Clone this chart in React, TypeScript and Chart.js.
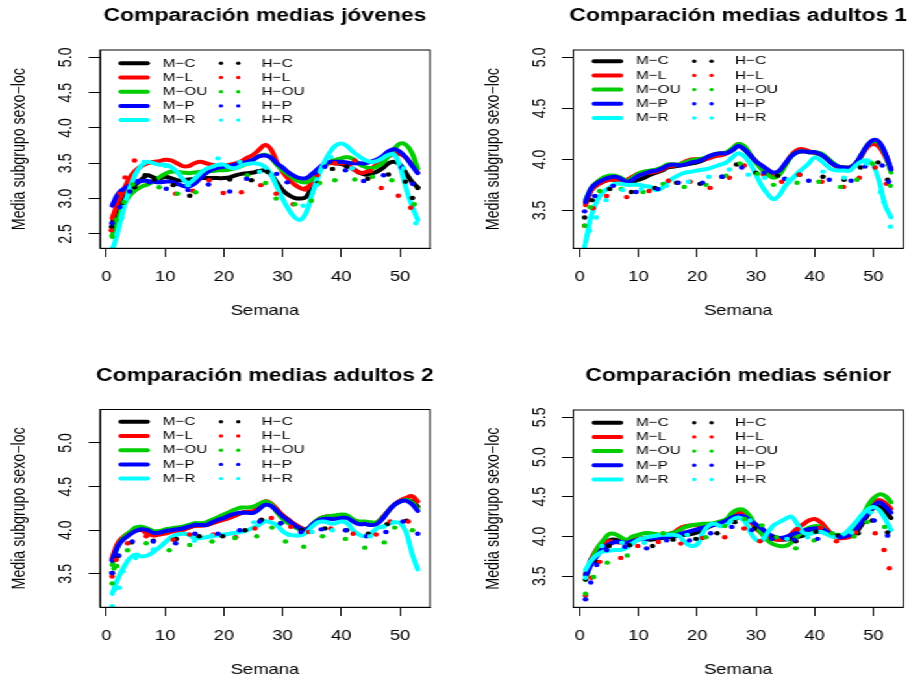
import React, { useEffect, useRef } from "react";
import { Chart, registerables } from "chart.js";

Chart.register(...registerables);

// The reference is horizontally stretched: drawn on a 700px wide page, shown 909px wide.
const STRETCH = 909 / 700;
const FONT = '"Liberation Sans", Arial, Helvetica, sans-serif';
const PANEL_W = 350;
const PANEL_H = 340;

const seriesColors = ["#000000", "#FF0000", "#00CD00", "#0000FF", "#00FFFF"];
const mLabels = ["M\u2212C", "M\u2212L", "M\u2212OU", "M\u2212P", "M\u2212R"];
const hLabels = ["H\u2212C", "H\u2212L", "H\u2212OU", "H\u2212P", "H\u2212R"];

const weeks = [1, 2, 3, 4, 5, 6, 7, 8, 9, 10, 11, 12, 13, 14, 15, 16, 17, 18, 19, 20, 21, 22, 23, 24, 25, 26, 27, 28, 29, 30, 31, 32, 33, 34, 35, 36, 37, 38, 39, 40, 41, 42, 43, 44, 45, 46, 47, 48, 49, 50, 51, 52, 53];
const xTicks = [0, 10, 20, 30, 40, 50];

// ---------- Jóvenes ----------
const mcJov = [2.65, 2.9, 3.05, 3.14, 3.2, 3.27, 3.33, 3.3, 3.28, 3.31, 3.29, 3.26, 3.26, 3.27, 3.28, 3.29, 3.29, 3.29, 3.29, 3.29, 3.3, 3.33, 3.35, 3.36, 3.37, 3.39, 3.4, 3.34, 3.23, 3.12, 3.05, 3.01, 3.0, 3.02, 3.18, 3.38, 3.48, 3.51, 3.5, 3.49, 3.46, 3.42, 3.37, 3.34, 3.35, 3.38, 3.43, 3.5, 3.52, 3.48, 3.36, 3.24, 3.16];
const mlJov = [2.72, 2.95, 3.13, 3.3, 3.4, 3.46, 3.5, 3.52, 3.53, 3.55, 3.54, 3.5, 3.46, 3.46, 3.5, 3.52, 3.5, 3.48, 3.47, 3.47, 3.48, 3.5, 3.53, 3.58, 3.62, 3.69, 3.76, 3.7, 3.52, 3.38, 3.28, 3.2, 3.15, 3.13, 3.25, 3.4, 3.47, 3.5, 3.5, 3.5, 3.48, 3.42, 3.37, 3.37, 3.42, 3.48, 3.55, 3.6, 3.63, 3.63, 3.58, 3.48, 3.37];
const moJov = [2.48, 2.7, 2.92, 3.05, 3.12, 3.17, 3.2, 3.24, 3.3, 3.35, 3.38, 3.38, 3.37, 3.36, 3.37, 3.38, 3.39, 3.39, 3.4, 3.4, 3.41, 3.43, 3.46, 3.5, 3.55, 3.6, 3.62, 3.58, 3.48, 3.4, 3.34, 3.28, 3.24, 3.23, 3.27, 3.37, 3.46, 3.52, 3.55, 3.57, 3.59, 3.56, 3.49, 3.45, 3.43, 3.45, 3.5, 3.6, 3.7, 3.78, 3.76, 3.65, 3.42];
const mpJov = [2.9, 3.07, 3.14, 3.19, 3.22, 3.25, 3.25, 3.24, 3.23, 3.24, 3.24, 3.21, 3.18, 3.17, 3.21, 3.29, 3.36, 3.41, 3.44, 3.45, 3.46, 3.48, 3.5, 3.52, 3.55, 3.6, 3.61, 3.58, 3.5, 3.44, 3.37, 3.32, 3.29, 3.29, 3.35, 3.42, 3.49, 3.52, 3.52, 3.52, 3.51, 3.5, 3.5, 3.5, 3.52, 3.55, 3.6, 3.67, 3.7, 3.66, 3.58, 3.47, 3.36];
const mrJov = [2.25, 2.55, 2.88, 3.15, 3.35, 3.47, 3.52, 3.5, 3.48, 3.48, 3.45, 3.38, 3.28, 3.22, 3.28, 3.36, 3.42, 3.45, 3.48, 3.48, 3.44, 3.43, 3.47, 3.49, 3.5, 3.49, 3.45, 3.35, 3.17, 3.0, 2.85, 2.74, 2.7, 2.8, 3.05, 3.3, 3.5, 3.65, 3.75, 3.78, 3.74, 3.66, 3.6, 3.55, 3.52, 3.53, 3.57, 3.62, 3.62, 3.45, 3.15, 2.9, 2.7];
const hcJov = [[0.9, 2.6], [2.8, 2.94], [4.8, 3.16], [6.6, 3.33], [8.2, 3.27], [11.4, 3.19], [14.2, 3.04], [21, 3.27], [24.7, 3.26], [27.4, 3.38], [36, 3.22], [38.5, 3.42], [40.9, 3.45], [44.5, 3.28], [48, 3.34], [50.9, 3.24], [52.1, 3.01], [53, 3.15]];
const hlJov = [[0.85, 2.55], [2.3, 3.07], [3.2, 3.3], [4.8, 3.54], [11.8, 3.07], [14.7, 3.11], [17.5, 3.26], [19.9, 3.08], [23, 3.09], [26.3, 3.19], [28.9, 3.07], [31.8, 2.92], [34, 3.15], [35.9, 3.33], [38.9, 3.5], [42.3, 3.54], [44.9, 3.39], [46.8, 3.15], [49.7, 3.04], [51.8, 2.87]];
const hoJov = [[1, 2.46], [1.7, 2.7], [3, 2.95], [4.5, 3.2], [9, 3.16], [12.1, 3.07], [15.2, 3.09], [24, 3.33], [27.1, 3.22], [28.9, 3.0], [32.1, 2.92], [34.9, 2.97], [36.3, 3.22], [38.9, 3.26], [42.3, 3.27], [45.3, 3.31], [48.6, 3.26], [52.4, 2.92]];
const hpJov = [[1, 2.65], [2.3, 2.88], [4, 3.1], [5.4, 3.25], [7.3, 3.23], [10.2, 3.14], [13.9, 3.12], [17.4, 3.2], [21, 3.1], [23.9, 3.28], [29, 3.35], [30.8, 3.23], [35.5, 3.36], [37.2, 3.45], [40.7, 3.4], [43.8, 3.25], [47.2, 3.33], [50.3, 3.44], [52.1, 3.21]];
const hrJov = [[1.1, 2.3], [2.6, 2.73], [6.4, 3.52], [10.1, 3.46], [13.9, 3.19], [19, 3.57], [22.7, 3.52], [26.1, 3.38], [33.5, 2.9], [35.8, 3.19], [38.2, 3.59], [41.8, 3.43], [50.6, 3.43], [52.7, 2.65]];
const yTicksJov = [2.5, 3.0, 3.5, 4.0, 4.5, 5.0];

// ---------- Adultos 1 ----------
const mcA1 = [3.57, 3.7, 3.75, 3.78, 3.8, 3.8, 3.79, 3.78, 3.78, 3.8, 3.82, 3.85, 3.87, 3.89, 3.92, 3.93, 3.94, 3.95, 3.96, 3.97, 3.99, 4.02, 4.04, 4.05, 4.06, 4.09, 4.13, 4.1, 4.04, 3.98, 3.93, 3.89, 3.86, 3.88, 3.95, 4.03, 4.07, 4.08, 4.07, 4.07, 4.05, 4.01, 3.96, 3.93, 3.92, 3.92, 3.96, 4.04, 4.13, 4.17, 4.15, 4.05, 3.9];
const mlA1 = [3.55, 3.7, 3.75, 3.78, 3.8, 3.8, 3.79, 3.8, 3.83, 3.86, 3.87, 3.87, 3.88, 3.9, 3.93, 3.94, 3.95, 3.98, 4.0, 4.0, 4.0, 4.01, 4.03, 4.04, 4.06, 4.1, 4.15, 4.12, 4.05, 3.98, 3.93, 3.88, 3.86, 3.88, 3.95, 4.04, 4.09, 4.1, 4.08, 4.06, 4.05, 4.02, 3.96, 3.92, 3.92, 3.92, 3.96, 4.04, 4.12, 4.15, 4.12, 4.03, 3.9];
const moA1 = [3.6, 3.72, 3.78, 3.82, 3.84, 3.84, 3.82, 3.79, 3.82, 3.86, 3.88, 3.89, 3.9, 3.92, 3.95, 3.95, 3.95, 3.97, 3.99, 4.0, 4.01, 4.03, 4.05, 4.06, 4.07, 4.11, 4.15, 4.13, 4.05, 3.97, 3.9, 3.85, 3.82, 3.85, 3.94, 4.03, 4.07, 4.08, 4.07, 4.07, 4.06, 4.02, 3.97, 3.93, 3.92, 3.92, 3.96, 4.05, 4.14, 4.18, 4.16, 4.05, 3.87];
const mpA1 = [3.58, 3.72, 3.77, 3.8, 3.82, 3.83, 3.81, 3.78, 3.8, 3.84, 3.86, 3.88, 3.89, 3.91, 3.94, 3.95, 3.94, 3.95, 3.97, 3.98, 4.0, 4.03, 4.05, 4.06, 4.06, 4.09, 4.13, 4.1, 4.04, 3.98, 3.94, 3.9, 3.87, 3.89, 3.96, 4.03, 4.07, 4.08, 4.07, 4.07, 4.05, 4.01, 3.96, 3.93, 3.92, 3.92, 3.96, 4.05, 4.14, 4.19, 4.17, 4.06, 3.9];
const mrA1 = [3.18, 3.45, 3.6, 3.68, 3.72, 3.76, 3.76, 3.75, 3.75, 3.75, 3.74, 3.73, 3.7, 3.72, 3.78, 3.82, 3.85, 3.87, 3.88, 3.89, 3.9, 3.91, 3.93, 3.95, 3.97, 4.02, 4.06, 4.03, 3.96, 3.85, 3.74, 3.66, 3.61, 3.65, 3.74, 3.8, 3.86, 3.91, 3.96, 4.02, 3.99, 3.94, 3.9, 3.89, 3.89, 3.89, 3.94, 3.98, 3.99, 3.94, 3.78, 3.55, 3.43];
const hcA1 = [[0.85, 3.43], [2.1, 3.6], [5.1, 3.71], [8.8, 3.68], [12.8, 3.72], [16.5, 3.77], [20.5, 3.76], [24.3, 3.83], [26.7, 3.95], [30, 3.87], [33.7, 3.84], [37.4, 3.85], [41.4, 3.83], [45, 3.8], [47.8, 3.92], [50.8, 3.97], [52.4, 3.8]];
const hlA1 = [[0.85, 3.35], [2.3, 3.52], [4.6, 3.64], [8, 3.63], [11.8, 3.69], [15.1, 3.79], [18.8, 3.78], [22.2, 3.72], [25.5, 3.82], [28, 3.94], [31.3, 3.85], [34.4, 3.78], [37.4, 3.85], [41.2, 3.78], [44.9, 3.73], [47.6, 3.82], [50.3, 3.92], [52.2, 3.76]];
const hoA1 = [[0.85, 3.35], [1.8, 3.53], [3.4, 3.69], [7.1, 3.71], [10.8, 3.68], [14.2, 3.76], [17.8, 3.73], [21.5, 3.75], [24.9, 3.84], [27.3, 3.96], [30.3, 3.86], [33, 3.75], [37, 3.77], [40.7, 3.78], [44.4, 3.73], [47.2, 3.8], [49.8, 3.96], [52.9, 3.74]];
const hpA1 = [[0.85, 3.49], [2.6, 3.64], [5.7, 3.74], [9.6, 3.68], [13.3, 3.71], [16.8, 3.77], [20.9, 3.77], [24.2, 3.83], [27.6, 3.92], [31.4, 3.87], [34.9, 3.81], [39, 3.79], [42.5, 3.8], [46.2, 3.79], [48.6, 3.93], [51.5, 3.94], [52.6, 3.78]];
const hrA1 = [[0.85, 3.15], [1.7, 3.3], [2.8, 3.43], [4.5, 3.6], [7.3, 3.7], [10.5, 3.71], [14.8, 3.74], [18.5, 3.78], [22, 3.83], [25.5, 3.9], [28.7, 3.85], [31.5, 3.82], [35.5, 3.8], [41.4, 3.88], [45, 3.82], [48.8, 3.96], [51.2, 3.68], [51.8, 3.58], [52.9, 3.34]];
const yTicksA1 = [3.5, 4.0, 4.5, 5.0];

// ---------- Adultos 2 ----------
const mcA2 = [3.66, 3.84, 3.92, 3.96, 4.0, 4.01, 3.99, 3.96, 3.96, 3.98, 3.99, 4.0, 4.01, 4.03, 4.05, 4.06, 4.06, 4.08, 4.11, 4.13, 4.15, 4.17, 4.2, 4.21, 4.21, 4.26, 4.32, 4.3, 4.24, 4.17, 4.12, 4.07, 4.03, 4.01, 4.06, 4.12, 4.15, 4.15, 4.15, 4.16, 4.15, 4.11, 4.08, 4.08, 4.07, 4.08, 4.14, 4.22, 4.29, 4.33, 4.35, 4.33, 4.27];
const mlA2 = [3.68, 3.86, 3.93, 3.97, 4.0, 4.0, 3.96, 3.94, 3.95, 3.96, 3.98, 3.99, 4.0, 4.03, 4.05, 4.05, 4.06, 4.08, 4.1, 4.12, 4.14, 4.17, 4.2, 4.21, 4.22, 4.27, 4.33, 4.31, 4.24, 4.17, 4.12, 4.07, 4.03, 4.0, 4.06, 4.12, 4.15, 4.16, 4.16, 4.17, 4.16, 4.12, 4.08, 4.08, 4.07, 4.08, 4.15, 4.22, 4.29, 4.34, 4.37, 4.39, 4.33];
const moA2 = [3.6, 3.82, 3.92, 3.98, 4.03, 4.04, 4.02, 3.99, 3.99, 4.01, 4.02, 4.03, 4.04, 4.06, 4.08, 4.08, 4.09, 4.12, 4.15, 4.18, 4.21, 4.24, 4.26, 4.26, 4.27, 4.3, 4.33, 4.3, 4.21, 4.13, 4.08, 4.04, 4.01, 4.0, 4.06, 4.12, 4.15, 4.16, 4.17, 4.18, 4.17, 4.12, 4.1, 4.1, 4.09, 4.09, 4.14, 4.22, 4.29, 4.33, 4.35, 4.32, 4.24];
const mpA2 = [3.65, 3.82, 3.9, 3.95, 3.99, 4.01, 4.0, 3.97, 3.97, 3.99, 4.0, 4.01, 4.02, 4.04, 4.06, 4.06, 4.06, 4.09, 4.12, 4.14, 4.17, 4.19, 4.2, 4.2, 4.2, 4.24, 4.29, 4.28, 4.22, 4.16, 4.11, 4.06, 4.02, 4.0, 4.06, 4.11, 4.13, 4.13, 4.13, 4.14, 4.14, 4.1, 4.07, 4.07, 4.06, 4.07, 4.13, 4.22, 4.29, 4.33, 4.34, 4.3, 4.22];
const mrA2 = [3.27, 3.45, 3.58, 3.68, 3.72, 3.7, 3.71, 3.75, 3.8, 3.86, 3.92, 3.95, 3.96, 3.95, 3.91, 3.91, 3.92, 3.93, 3.94, 3.95, 3.96, 3.97, 3.98, 4.0, 4.03, 4.06, 4.1, 4.09, 4.06, 3.99, 3.95, 3.94, 3.94, 3.97, 4.04, 4.09, 4.1, 4.08, 4.08, 4.1, 4.08, 4.0, 3.95, 3.93, 3.96, 4.02, 4.04, 4.07, 4.09, 4.08, 3.98, 3.74, 3.55];
const hcA2 = [[1, 3.51], [2, 3.7], [4.3, 3.86], [8, 3.88], [11.9, 3.9], [15.8, 3.93], [19.8, 3.93], [23.6, 4.0], [26.4, 4.12], [29.7, 4.08], [33.2, 4.0], [37.2, 4.02], [40.9, 4.0], [44.6, 3.96], [47.8, 4.07], [51.1, 4.11]];
const hlA2 = [[1, 3.47], [1.7, 3.66], [3.6, 3.85], [6.8, 3.93], [11.4, 3.89], [14.2, 3.95], [18.2, 3.95], [22, 3.92], [25.3, 4.02], [28.1, 4.14], [31.4, 4.04], [34.5, 3.98], [38.2, 4.02], [42, 3.96], [45.9, 3.95], [48.3, 4.1], [51.4, 4.1]];
const hoA2 = [[1, 3.39], [1.3, 3.56], [1.8, 3.59], [3.6, 3.77], [6.8, 3.85], [10.7, 3.77], [14.2, 3.83], [18, 3.87], [21.9, 3.91], [25.6, 3.93], [28.2, 4.03], [30.5, 3.87], [33.6, 3.81], [36.8, 3.93], [40.7, 3.9], [44, 3.8], [47.3, 3.86], [49.1, 4.03], [52.1, 4.0]];
const hpA2 = [[1, 3.51], [2.1, 3.71], [4.4, 3.87], [8, 3.87], [11.8, 3.85], [15.1, 3.96], [19, 3.96], [22.7, 4.0], [26.1, 4.1], [29.7, 4.08], [33.1, 3.98], [36.6, 4.01], [40.7, 4.0], [44.3, 3.93], [47.6, 3.98], [50.5, 4.1], [53, 3.96]];
const hrA2 = [[1, 3.13], [1.4, 3.32], [2.2, 3.34], [2.8, 3.53], [5, 3.68], [8, 3.78], [15, 3.88], [18, 3.94], [25.1, 4.09], [31, 3.95], [35, 3.98], [38.5, 4.0], [44.9, 3.93], [47.2, 4.04], [48.8, 4.09]];
const yTicksA2 = [3.5, 4.0, 4.5, 5.0];

// ---------- Sénior ----------
const mcSen = [3.52, 3.72, 3.83, 3.9, 3.95, 3.96, 3.94, 3.93, 3.95, 3.97, 3.97, 3.96, 3.97, 3.98, 3.99, 4.0, 4.01, 4.02, 4.03, 4.05, 4.08, 4.12, 4.15, 4.17, 4.18, 4.2, 4.24, 4.24, 4.2, 4.14, 4.07, 4.01, 3.97, 3.96, 3.96, 3.97, 3.99, 4.01, 4.04, 4.06, 4.06, 4.04, 4.02, 4.01, 4.0, 4.0, 4.05, 4.15, 4.27, 4.36, 4.38, 4.32, 4.23];
const mlSen = [3.47, 3.7, 3.85, 3.9, 3.94, 3.93, 3.92, 3.93, 3.95, 3.97, 3.98, 3.98, 4.0, 4.02, 4.03, 4.05, 4.1, 4.13, 4.14, 4.14, 4.13, 4.15, 4.16, 4.18, 4.2, 4.25, 4.3, 4.28, 4.2, 4.1, 4.04, 4.0, 3.97, 3.96, 3.98, 4.03, 4.1, 4.15, 4.2, 4.22, 4.18, 4.1, 4.02, 3.98, 3.98, 4.0, 4.08, 4.2, 4.33, 4.42, 4.46, 4.42, 4.35];
const moSen = [3.45, 3.68, 3.85, 3.95, 4.03, 4.03, 3.99, 3.96, 4.0, 4.02, 4.04, 4.04, 4.03, 4.02, 4.03, 4.05, 4.08, 4.12, 4.14, 4.15, 4.16, 4.16, 4.17, 4.19, 4.22, 4.3, 4.34, 4.33, 4.25, 4.13, 4.03, 3.95, 3.9, 3.88, 3.88, 3.92, 4.0, 4.07, 4.11, 4.13, 4.12, 4.06, 4.02, 4.02, 4.02, 4.08, 4.16, 4.24, 4.38, 4.48, 4.53, 4.51, 4.43];
const mpSen = [3.5, 3.65, 3.76, 3.85, 3.9, 3.93, 3.93, 3.92, 3.94, 3.96, 3.97, 3.98, 3.98, 3.99, 4.0, 4.01, 4.03, 4.05, 4.07, 4.09, 4.11, 4.13, 4.15, 4.17, 4.2, 4.24, 4.26, 4.25, 4.2, 4.15, 4.1, 4.04, 4.0, 3.98, 3.99, 4.02, 4.05, 4.07, 4.09, 4.1, 4.1, 4.06, 4.02, 4.0, 4.0, 4.02, 4.08, 4.18, 4.3, 4.38, 4.43, 4.38, 4.3];
const mrSen = [3.58, 3.7, 3.77, 3.81, 3.82, 3.83, 3.83, 3.86, 3.91, 3.96, 3.98, 4.0, 4.01, 4.02, 4.02, 4.02, 4.0, 3.92, 3.88, 3.9, 4.05, 4.14, 4.16, 4.13, 4.15, 4.21, 4.24, 4.2, 4.06, 3.96, 3.95, 4.05, 4.14, 4.18, 4.22, 4.25, 4.16, 4.05, 4.03, 4.05, 4.06, 4.03, 4.0, 4.0, 4.03, 4.1, 4.18, 4.27, 4.34, 4.37, 4.33, 4.22, 4.08];
const hcSen = [[1, 3.46], [3, 3.68], [5, 3.88], [8.5, 3.89], [12.4, 3.88], [15.9, 3.96], [19.8, 3.97], [23.4, 4.04], [26.4, 4.18], [29.7, 4.1], [33.1, 3.99], [36.8, 3.94], [40.2, 4.06], [44, 4.01], [47.4, 4.04], [49.8, 4.2], [52.4, 4.05]];
const hlSen = [[1, 3.26], [2, 3.48], [3.4, 3.68], [7, 3.73], [9.9, 3.88], [13.4, 3.93], [17.2, 3.91], [20.9, 3.98], [24.7, 3.99], [28, 4.1], [30.7, 3.94], [33.9, 3.96], [37.1, 4.09], [41, 4.11], [43.7, 3.94], [47, 4.05], [50.3, 4.04], [51.8, 3.83], [52.7, 3.6]];
const hoSen = [[1, 3.28], [2.4, 3.49], [4.7, 3.67], [8.1, 3.76], [14.2, 4.04], [21.5, 3.99], [24.7, 4.13], [28.1, 4.22], [31, 4.14], [33.5, 3.99], [36.8, 3.85], [39.9, 3.95], [43, 4.04], [46.7, 4.0], [48.9, 4.18], [51.9, 4.12]];
const hpSen = [[1, 3.21], [1.9, 3.42], [2.9, 3.64], [4.6, 3.83], [7.7, 3.87], [11.4, 3.85], [14.8, 3.95], [18.7, 3.95], [22.3, 4.04], [25.9, 4.12], [29.3, 4.08], [32.7, 3.97], [36.5, 3.96], [40.5, 3.97], [44.4, 3.99], [50.1, 4.2], [52.4, 4.01]];
const hrSen = [[1, 3.48], [3.8, 3.88], [7.2, 3.92], [11, 3.92], [18.3, 4.02], [25.7, 4.19], [29, 4.2], [35.3, 3.97], [38.8, 3.99], [46.3, 4.05], [49.5, 4.3]];
const yTicksSen = [3.5, 4.0, 4.5, 5.0, 5.5];

const panelData = [
  { title: "Comparaci\u00f3n medias j\u00f3venes", m: [mcJov, mlJov, moJov, mpJov, mrJov], h: [hcJov, hlJov, hoJov, hpJov, hrJov], yMin: 2.296, yMax: 5.104, yTicks: yTicksJov },
  { title: "Comparaci\u00f3n medias adultos 1", m: [mcA1, mlA1, moA1, mpA1, mrA1], h: [hcA1, hlA1, hoA1, hpA1, hrA1], yMin: 3.128, yMax: 5.072, yTicks: yTicksA1 },
  { title: "Comparaci\u00f3n medias adultos 2", m: [mcA2, mlA2, moA2, mpA2, mrA2], h: [hcA2, hlA2, hoA2, hpA2, hrA2], yMin: 3.116, yMax: 5.384, yTicks: yTicksA2 },
  { title: "Comparaci\u00f3n medias s\u00e9nior", m: [mcSen, mlSen, moSen, mpSen, mrSen], h: [hcSen, hlSen, hoSen, hpSen, hrSen], yMin: 3.108, yMax: 5.592, yTicks: yTicksSen },
];

// plot-box geometry inside each 350x340 panel (unstretched px)
const panelLayouts = [
  { l: 77.0, t: 50, r: 331.1, b: 248.3, legendTop: 13.3, left: 0, top: 0 },
  { l: 91.5, t: 50, r: 345.6, b: 248.3, legendTop: 11.2, left: 350, top: 0 },
  { l: 77.0, t: 69.5, r: 331.1, b: 267.3, legendTop: 12.3, left: 0, top: 340 },
  { l: 91.5, t: 70, r: 345.6, b: 267.3, legendTop: 12.7, left: 350, top: 340 },
];

function makeDecor(data: any, lay: any) {
  return {
    id: "decor",
    afterDraw(chart: any) {
      const ctx = chart.ctx;
      const a = chart.chartArea;
      const cx = (a.left + a.right) / 2;
      ctx.save();
      ctx.strokeStyle = "#000";
      ctx.lineWidth = 1;
      ctx.strokeRect(a.left, a.top, a.right - a.left, a.bottom - a.top);

      ctx.fillStyle = "#000";
      ctx.textAlign = "center";
      ctx.textBaseline = "alphabetic";
      ctx.font = `bold 17.6px ${FONT}`;
      ctx.fillText(data.title, cx, a.top - 28.8);

      ctx.font = `14.2px ${FONT}`;
      ctx.fillText("Semana", cx, a.bottom + 66.7);

      // x tick labels, placed with the library's x scale
      const xs = chart.scales.x;
      xTicks.forEach((v) => {
        ctx.fillText(String(v), xs.getPixelForValue(v), a.bottom + 32.4);
      });

      ctx.save();
      ctx.translate(a.left - 58, (a.top + a.bottom) / 2);
      ctx.rotate(-Math.PI / 2);
      ctx.fillText("Media subgrupo sexo\u2212loc", 0, 0);
      ctx.restore();

      // y tick labels (rotated, as in R), placed with the library's y scale
      const ys = chart.scales.y;
      data.yTicks.forEach((v: number) => {
        const py = ys.getPixelForValue(v);
        ctx.save();
        ctx.translate(a.left - 21.6, py);
        ctx.rotate(-Math.PI / 2);
        ctx.fillText(v.toFixed(1), 0, 0);
        ctx.restore();
      });

      // legend
      ctx.font = `11.8px ${FONT}`;
      ctx.textAlign = "left";
      ctx.textBaseline = "middle";
      for (let i = 0; i < 5; i++) {
        const y = a.top + lay.legendTop + i * 14.2;
        ctx.strokeStyle = seriesColors[i];
        ctx.lineWidth = 4;
        ctx.lineCap = "round";
        ctx.beginPath();
        ctx.moveTo(a.left + 16.1, y);
        ctx.lineTo(a.left + 36.5, y);
        ctx.stroke();
        ctx.fillStyle = "#000";
        ctx.fillText(mLabels[i], a.left + 48.3, y);
        ctx.fillStyle = seriesColors[i];
        [93.2, 106.5].forEach((dx) => {
          ctx.beginPath();
          ctx.arc(a.left + dx, y, 1.7, 0, Math.PI * 2);
          ctx.fill();
        });
        ctx.fillStyle = "#000";
        ctx.fillText(hLabels[i], a.left + 124.5, y);
      }
      ctx.restore();
    },
  };
}

function buildConfig(data: any, lay: any): any {
  const n = 10;
  const datasets: any[] = [];
  data.m.forEach((vals: number[], i: number) => {
    datasets.push({
      label: mLabels[i],
      data: weeks.map((w, k) => ({ x: w, y: vals[k] })),
      borderColor: seriesColors[i],
      backgroundColor: seriesColors[i],
      borderWidth: 4,
      pointRadius: 0,
      tension: 0.4,
      borderCapStyle: "round",
      borderJoinStyle: "round",
      fill: false,
      clip: 0,
      order: n - i,
    });
  });
  data.h.forEach((pts: number[][], i: number) => {
    datasets.push({
      label: hLabels[i],
      data: pts.map((p) => ({ x: p[0], y: p[1] })),
      showLine: false,
      pointRadius: 2.2,
      pointBorderWidth: 0,
      pointBackgroundColor: seriesColors[i],
      pointBorderColor: seriesColors[i],
      clip: 0,
      order: n - 5 - i,
    });
  });
  const gridOpts = { drawOnChartArea: false, drawTicks: true, tickLength: 8.7, color: "#000", lineWidth: 1 };
  return {
    type: "line",
    data: { datasets },
    options: {
      animation: false,
      responsive: false,
      devicePixelRatio: 1,
      events: [],
      layout: { padding: { top: lay.t, right: PANEL_W - lay.r, left: 0, bottom: 0 } },
      plugins: { legend: { display: false }, tooltip: { enabled: false }, title: { display: false } },
      scales: {
        x: {
          type: "linear",
          min: -1.08,
          max: 55.08,
          afterBuildTicks: (s: any) => { s.ticks = xTicks.map((v) => ({ value: v })); },
          afterFit: (s: any) => { s.height = PANEL_H - lay.b; },
          grid: gridOpts,
          border: { display: true, color: "#000", width: 1 },
          ticks: { display: false },
        },
        y: {
          type: "linear",
          min: data.yMin,
          max: data.yMax,
          afterBuildTicks: (s: any) => { s.ticks = data.yTicks.map((v: number) => ({ value: v })); },
          afterFit: (s: any) => { s.width = lay.l; },
          grid: gridOpts,
          border: { display: true, color: "#000", width: 1 },
          ticks: { display: false },
        },
      },
    },
    plugins: [makeDecor(data, lay)],
  };
}

function Panel({ index }: { index: number }) {
  const ref = useRef<HTMLCanvasElement | null>(null);
  useEffect(() => {
    const chart = new Chart(ref.current as HTMLCanvasElement, buildConfig(panelData[index], panelLayouts[index]));
    return () => chart.destroy();
  }, [index]);
  const lay = panelLayouts[index];
  return <canvas ref={ref} width={PANEL_W} height={PANEL_H} style={{ position: "absolute", left: lay.left, top: lay.top }} />;
}

export default function App() {
  return (
    <div
      style={{
        position: "absolute",
        left: 0,
        top: 0,
        width: 700,
        height: 680,
        background: "#fff",
        transform: `scaleX(${STRETCH})`,
        transformOrigin: "0 0",
      }}
    >
      {[0, 1, 2, 3].map((i) => (
        <Panel key={i} index={i} />
      ))}
    </div>
  );
}
